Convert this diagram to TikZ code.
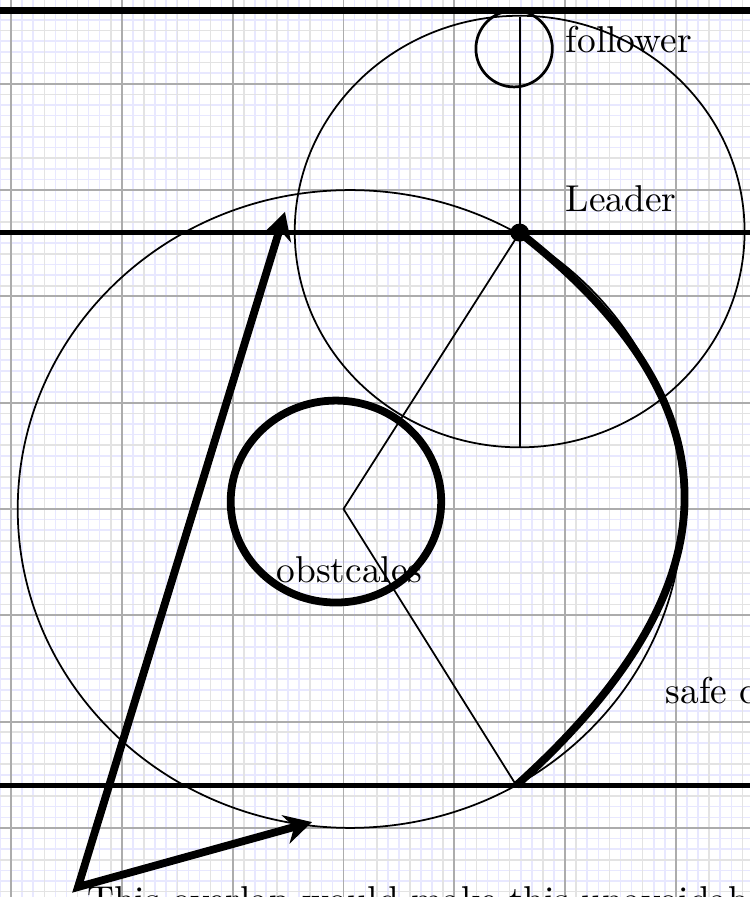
\documentclass[tikz,border=0pt]{standalone}
\usetikzlibrary{arrows.meta}
\begin{document}
\begin{tikzpicture}[x=1cm, y=0.9594cm,
  thinline/.style={line width=0.45pt},
  boldline/.style={line width=2pt},
  rule/.style={line width=1.2pt},
  toprule/.style={line width=1.9pt},
  lbl/.style={inner sep=0pt, anchor=base west, font=\fontsize{9.6}{11.5}\selectfont}]
\useasboundingbox (-3.100,-3.650) rectangle (3.660,4.788);
% grids
\draw[blue!9, line width=0.4pt, step=0.1] (-3.2,-3.8) grid (3.8,4.9);
\draw[gray!22, line width=0.4pt, step=0.3] (-3.2,-3.8) grid (3.8,4.9);
\draw[gray!65, line width=0.5pt, step=1] (-3.2,-3.8) grid (3.8,4.9);
% key points
\coordinate (O) at (0,0);
\coordinate (L) at (1.59,2.6);
\coordinate (B) at (1.56,-2.6);
\coordinate (C) at (-2.396,-3.556);
\coordinate (T1) at (-0.528,2.794);
\coordinate (T2) at (-0.284,-2.945);
\coordinate (Ltop) at (1.59,4.63);
\coordinate (Lbot) at (1.59,0.58);
\coordinate (topW) at (-3.3,4.69);
\coordinate (topE) at (3.9,4.69);
\coordinate (midW) at (-3.3,2.6);
\coordinate (midE) at (3.9,2.6);
\coordinate (botW) at (-3.3,-2.6);
\coordinate (botE) at (3.9,-2.6);
% horizontal rules
\draw[toprule] (topW) -- (topE);
\draw[rule] (midW) -- (midE);
\draw[rule] (botW) -- (botE);
% circles
\draw[thinline] (0.06,0) circle (3);
\draw[thinline] (1.59,2.61) circle (2.03);
\draw[boldline] (-0.068,0.07) circle (0.95);
\node[draw, circle, line width=0.7pt, minimum size=0.69cm, inner sep=0pt] (follower) at (1.54,4.33) {};
% lines
\draw[thinline] (Ltop) -- (Lbot);
\draw[thinline] (O) -- (L);
\draw[thinline] (O) -- (B);
\draw[boldline] (L) to[out=-38, in=42, looseness=1.34] (B);
\fill (L) circle (0.085);
% arrows
\draw[boldline, line join=miter, {Stealth[length=7pt,width=7.5pt]}-{Stealth[length=7pt,width=7.5pt]}] (T1) -- (C) -- (T2);
% labels
\node[lbl] (followerlabel) at (2.0,4.29) {follower};
\node[lbl] (leaderlabel) at (2.0,2.794) {Leader};
\node[lbl] (obslabel) at (-0.609,-0.696) {obstcales};
\node[lbl] (safelabel) at (2.90,-1.825) {safe c};
\node[lbl] (notelabel) at (-2.32,-3.797) {This overlap would make this unavoidable};
\end{tikzpicture}
\end{document}
